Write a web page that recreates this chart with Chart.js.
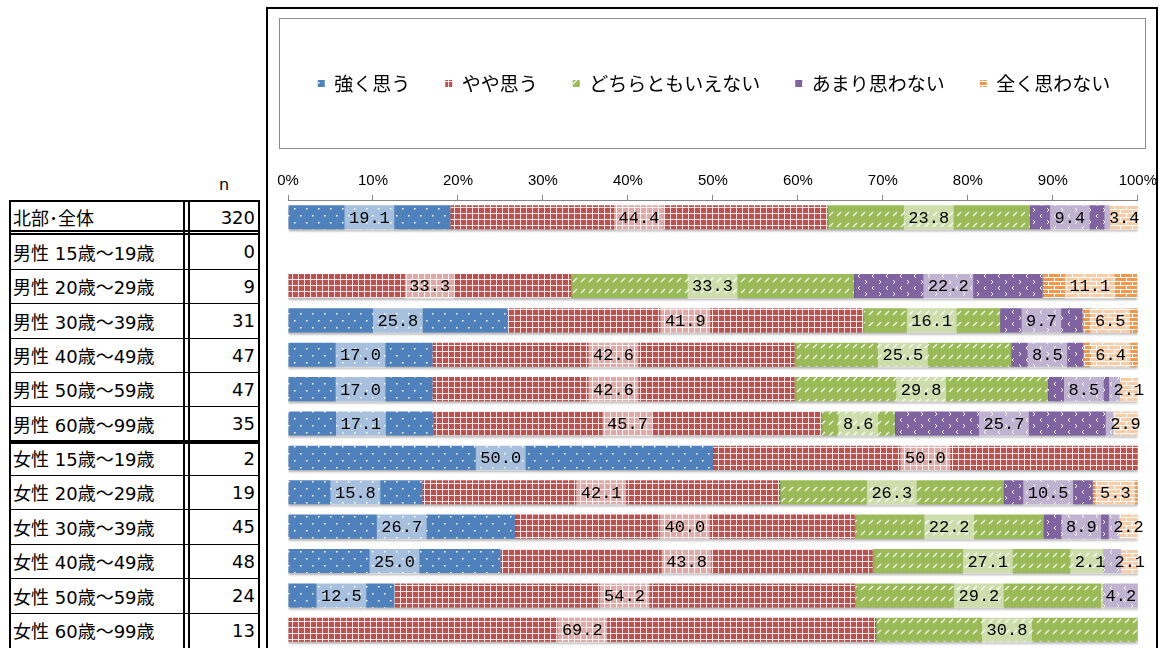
<!DOCTYPE html>
<html lang="ja">
<head>
<meta charset="UTF-8">
<title>北部・全体 回答分布</title>
<script src="https://cdn.jsdelivr.net/npm/chart.js"></script>
<style>
  body { margin: 0; background: #fff; width: 1159px; height: 648px; overflow: hidden; position: relative;
         font-family: "DejaVu Sans", "Noto Sans CJK JP", sans-serif; }
  #frame { position: absolute; left: 266px; top: 7px; width: 888px; height: 700px;
           border-left: 2px solid #000; border-top: 2px solid #000; border-right: 2px solid #000; }
  #legendBox { position: absolute; left: 279px; top: 18px; width: 865px; height: 129px; border: 1px solid #8c8c8c; }
  #chart { position: absolute; left: 268px; top: 9px; }
  .ln { position: absolute; background: #000; }
  .lab { position: absolute; left: 13px; font-size: 18px; display: flex; align-items: center; white-space: nowrap; color: #000; }
  .num { position: absolute; left: 190px; width: 65px; font-size: 18px; display: flex; align-items: center; justify-content: flex-end; color: #000; }
  #nHead { position: absolute; left: 188px; width: 72px; top: 175px; text-align: center; font-size: 16px; }
</style>
</head>
<body>
<div id="frame"></div>
<div id="legendBox"></div>
<div id="nHead">n</div>
<div id="tbl"></div>
<canvas id="chart" width="894" height="639"></canvas>

<script>
  // 行ラベルと回答者数
  const categories = ['北部･全体', '男性 15歳～19歳', '男性 20歳～29歳', '男性 30歳～39歳', '男性 40歳～49歳',
    '男性 50歳～59歳', '男性 60歳～99歳', '女性 15歳～19歳', '女性 20歳～29歳', '女性 30歳～39歳',
    '女性 40歳～49歳', '女性 50歳～59歳', '女性 60歳～99歳'];
  const counts = [320, 0, 9, 31, 47, 47, 35, 2, 19, 45, 48, 24, 13];

  // 回答の割合 (%)
  const seriesNames = ['強く思う', 'やや思う', 'どちらともいえない', 'あまり思わない', '全く思わない'];
  const strong   = [19.1, null, null, 25.8, 17.0, 17.0, 17.1, 50.0, 15.8, 26.7, 25.0, 12.5, null];
  const somewhat = [44.4, null, 33.3, 41.9, 42.6, 42.6, 45.7, 50.0, 42.1, 40.0, 43.8, 54.2, 69.2];
  const neutral  = [23.8, null, 33.3, 16.1, 25.5, 29.8, 8.6, null, 26.3, 22.2, 27.1, 29.2, 30.8];
  const notMuch  = [9.4, null, 22.2, 9.7, 8.5, 8.5, 25.7, null, 10.5, 8.9, 2.1, 4.2, null];
  const notAtAll = [3.4, null, 11.1, 6.5, 6.4, 2.1, 2.9, null, 5.3, 2.2, 2.1, null, null];
  const xTicks = [0, 10, 20, 30, 40, 50, 60, 70, 80, 90, 100];

  // 左側の表
  const tbl = document.getElementById('tbl');
  const rowTop = 200, rowH = 447 / categories.length;
  function line(x, y, w, h) {
    const d = document.createElement('div');
    d.className = 'ln';
    d.style.cssText = `left:${x}px;top:${y}px;width:${w}px;height:${h}px`;
    tbl.appendChild(d);
  }
  categories.forEach((name, i) => {
    const t = Math.round(rowTop + i * rowH);
    const b = Math.round(rowTop + (i + 1) * rowH);
    const lab = document.createElement('div');
    lab.className = 'lab';
    lab.style.top = t + 'px'; lab.style.height = (b - t) + 'px';
    lab.textContent = name;
    tbl.appendChild(lab);
    const num = document.createElement('div');
    num.className = 'num';
    num.style.top = t + 'px'; num.style.height = (b - t) + 'px';
    num.textContent = counts[i];
    tbl.appendChild(num);
    if (i === 0) {
      line(9, t, 251, 2);
      line(9, b - 4, 251, 1.5);
      line(9, b - 1, 251, 1.5);
    } else if (i === 6) {
      line(9, b - 1, 251, 3.5);
    } else if (i < categories.length - 1) {
      line(9, b, 251, 1);
    }
  });
  line(9, rowTop, 2, 448);
  line(183, rowTop, 2, 448);
  line(188, rowTop, 2, 448);
  line(258, rowTop, 2, 448);

  // 塗りパターン
  function makePattern(w, h, bg, draw) {
    const c = document.createElement('canvas');
    c.width = w; c.height = h;
    const g = c.getContext('2d');
    g.fillStyle = bg; g.fillRect(0, 0, w, h);
    g.fillStyle = '#fff'; g.strokeStyle = '#fff';
    draw(g);
    return g.createPattern(c, 'repeat');
  }
  const blueFill = makePattern(12, 14, '#4F81BD', g => {
    g.fillRect(2, 3, 1.5, 1.5); g.fillRect(8, 10, 1.5, 1.5);
  });
  const redFill = makePattern(6, 6, '#C0504D', g => {
    g.globalAlpha = 0.85;
    g.fillRect(0, 0, 6, 1); g.fillRect(0, 1, 1, 5);
  });
  const greenFill = makePattern(8, 11, '#9BBB59', g => {
    g.lineWidth = 1.2; g.globalAlpha = 0.9;
    g.beginPath(); g.moveTo(1, 9); g.lineTo(5, 5); g.stroke();
  });
  const purpleFill = makePattern(14, 12, '#8064A2', g => {
    g.lineWidth = 1; g.globalAlpha = 0.9;
    g.beginPath(); g.moveTo(4, 1); g.lineTo(2, 3); g.lineTo(4, 5); g.stroke();
    g.beginPath(); g.moveTo(9, 7); g.lineTo(11, 9); g.lineTo(9, 11); g.stroke();
  });
  const orangeFill = makePattern(12, 8, '#F79646', g => {
    g.fillRect(0, 0, 12, 1); g.fillRect(0, 4, 12, 1);
    g.fillRect(0, 0, 1, 4); g.fillRect(6, 4, 1, 4);
  });

  // 棒の影
  const shadowPlugin = {
    id: 'barShadow',
    beforeDatasetsDraw(chart) {
      const c = chart.ctx;
      c.save();
      c.shadowColor = 'rgba(0,0,0,0.3)';
      c.shadowBlur = 2;
      c.shadowOffsetY = 2;
    },
    afterDatasetsDraw(chart) {
      chart.ctx.restore();
    }
  };

  // 凡例を枠の中央へ寄せる
  const legendShift = {
    id: 'legendShift',
    afterLayout(chart) {
      chart.legend.left -= 11;
      chart.legend.right -= 11;
    }
  };

  // データラベル (同じ行で重なる場合は左へずらす)
  const labelPlugin = {
    id: 'segLabels',
    afterDatasetsDraw(chart) {
      const ctx = chart.ctx;
      ctx.save();
      ctx.font = '17px "Liberation Mono", monospace';
      ctx.textAlign = 'center';
      ctx.textBaseline = 'middle';
      const nSets = chart.data.datasets.length;
      chart.data.labels.forEach((_, i) => {
        let limit = Infinity;
        for (let di = nSets - 1; di >= 0; di--) {
          const v = chart.data.datasets[di].data[i];
          if (v == null) continue;
          const bar = chart.getDatasetMeta(di).data[i];
          const txt = v.toFixed(1);
          const w = ctx.measureText(txt).width + 9;
          const h = bar.height + 2;
          let cx = (bar.x + bar.base) / 2;
          if (cx + w / 2 > limit) cx = limit - w / 2;
          limit = cx - w / 2;
          ctx.fillStyle = 'rgba(255,255,255,0.5)';
          ctx.fillRect(cx - w / 2, bar.y - h / 2, w, h);
          ctx.fillStyle = '#000';
          ctx.fillText(txt, cx, bar.y + 1);
        }
      });
      ctx.restore();
    }
  };

  Chart.defaults.font.family = '"Noto Sans CJK JP", sans-serif';
  Chart.defaults.color = '#000';

  const fills = [blueFill, redFill, greenFill, purpleFill, orangeFill];
  const values = [strong, somewhat, neutral, notMuch, notAtAll];

  new Chart(document.getElementById('chart').getContext('2d'), {
    type: 'bar',
    data: {
      labels: categories,
      datasets: seriesNames.map((name, k) => ({
        label: name,
        data: values[k],
        backgroundColor: fills[k],
        borderWidth: 0,
        barPercentage: 0.7,
        categoryPercentage: 1
      }))
    },
    options: {
      indexAxis: 'y',
      responsive: false,
      animation: false,
      layout: { padding: { top: 30, left: 20, right: 0, bottom: 1 } },
      plugins: {
        legend: {
          position: 'top',
          labels: { font: { size: 19 }, boxWidth: 7, boxHeight: 7, padding: 35, color: '#000' }
        },
        tooltip: { enabled: false }
      },
      scales: {
        x: {
          position: 'top',
          stacked: true,
          min: 0,
          max: 100,
          afterBuildTicks: s => { s.ticks = xTicks.map(v => ({ value: v })); },
          afterFit: s => { s.height = 97; },
          ticks: {
            padding: 5,
            font: { family: '"Liberation Sans", sans-serif', size: 15 },
            callback: v => v + '%'
          },
          grid: { drawOnChartArea: false, tickLength: 5, color: '#868686' },
          border: { color: '#868686' }
        },
        y: {
          stacked: true,
          display: false
        }
      }
    },
    plugins: [shadowPlugin, legendShift, labelPlugin]
  });
</script>
</body>
</html>
